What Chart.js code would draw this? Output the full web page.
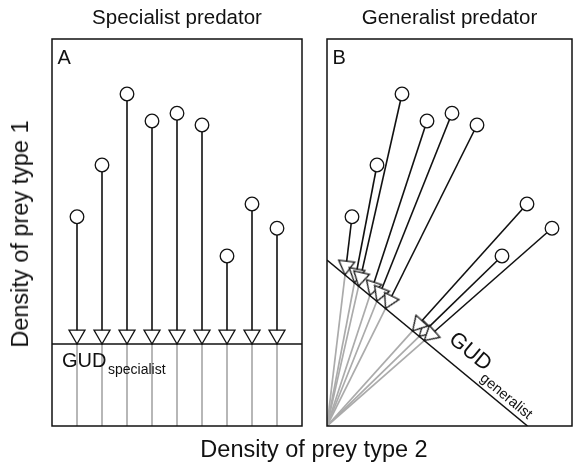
<!DOCTYPE html>
<html>
<head>
<meta charset="utf-8">
<script src="https://cdn.jsdelivr.net/npm/chart.js@4"></script>
<style>
  body { margin: 0; background: #fff; }
  #wrap { position: relative; width: 573px; height: 463px; overflow: hidden;
          font-family: "Liberation Sans", Arial, Helvetica, sans-serif; color: #111; }
  #wrap canvas { position: absolute; top: 0; }
  #panelA { left: 0; }
  #panelB { left: 310px; }
  .axis-title { position: absolute; font-size: 23.5px; line-height: 24px; white-space: nowrap; }
  #xTitle { left: 314px; top: 449px; transform: translate(-50%, -50%); }
  #yTitle { left: 20px; top: 234px; transform: translate(-50%, -50%) rotate(-90deg); }
</style>
</head>
<body>
<div id="wrap">
  <canvas id="panelA" width="310" height="463"></canvas>
  <canvas id="panelB" width="263" height="463"></canvas>
  <div class="axis-title" id="xTitle">Density of prey type 2</div>
  <div class="axis-title" id="yTitle">Density of prey type 1</div>
</div>
<script>
// starting densities of the nine patches (same patches in both panels)
const preyType2 = [1, 2, 3, 4, 5, 6, 7, 8, 9];
const preyType1 = [8.37, 10.44, 13.28, 12.2, 12.51, 12.04, 6.8, 8.88, 7.91];

// giving-up densities
const gudSpecialist = 3.28;          // prey type 1 level
const gudGeneralist = [8.02, 6.64];  // intercepts: prey type 2 axis, prey type 1 axis

const FONT = '"Liberation Sans", Arial, Helvetica, sans-serif';
const INK = '#111';
const GREY = '#ababab';

// open arrow head, tip sits in the middle of the image so the point is the tip
function arrowHead(side) {
    const h = side * Math.sqrt(3) / 2;
    const size = Math.ceil(2 * h + 4);
    const c = document.createElement('canvas');
    c.width = c.height = size;
    const g = c.getContext('2d');
    const m = size / 2;
    g.beginPath();
    g.moveTo(m, m);
    g.lineTo(m - side / 2, m - h);
    g.lineTo(m + side / 2, m - h);
    g.closePath();
    g.fillStyle = '#fff';
    g.fill();
    g.lineWidth = 1.3;
    g.strokeStyle = INK;
    g.stroke();
    return c;
}
const HEAD = arrowHead(16);

function seg(p, q, color, width, order) {
    return { data: [p, q], showLine: true, borderColor: color, borderWidth: width,
             pointRadius: 0, order: order };
}

// rotate each head so that it points from its circle to its tip
function headRotation(sources) {
    return (ctx) => {
        const xs = ctx.chart.scales.x, ys = ctx.chart.scales.y;
        const tip = ctx.raw, src = sources[ctx.dataIndex];
        if (!tip || !src) return 0;
        const dx = xs.getPixelForValue(tip.x) - xs.getPixelForValue(src.x);
        const dy = ys.getPixelForValue(tip.y) - ys.getPixelForValue(src.y);
        return Math.atan2(-dx, dy) * 180 / Math.PI;
    };
}

const patches = preyType2.map((x, i) => ({ x: x, y: preyType1[i] }));

const frame = {
    id: 'frame',
    afterDatasetsDraw(chart) {
        const { ctx, chartArea: a } = chart;
        ctx.save();
        ctx.lineWidth = 1.5;
        ctx.strokeStyle = INK;
        ctx.strokeRect(a.left, a.top, a.right - a.left, a.bottom - a.top);
        ctx.restore();
    }
};

function baseOptions(title, pad, xMax) {
    return {
        responsive: false,
        animation: false,
        events: [],
        layout: { padding: pad, autoPadding: false },
        scales: {
            x: { type: 'linear', min: 0, max: xMax, display: false },
            y: { type: 'linear', min: 0, max: 15.48, display: false }
        },
        plugins: {
            legend: { display: false },
            tooltip: { enabled: false },
            title: {
                display: true, text: title, color: INK,
                font: { family: FONT, size: 20.5, weight: 'normal' },
                padding: { top: 6.5, bottom: 7.9 }
            }
        }
    };
}

// ---- panel A: specialist ----
const tipsA = preyType2.map(x => ({ x: x, y: gudSpecialist }));

const labelsA = {
    id: 'labelsA',
    afterDraw(chart) {
        const { ctx, chartArea: a, scales } = chart;
        const gy = scales.y.getPixelForValue(gudSpecialist);
        ctx.save();
        ctx.fillStyle = INK;
        ctx.textAlign = 'left';
        ctx.textBaseline = 'alphabetic';
        ctx.font = '20px ' + FONT;
        ctx.fillText('A', a.left + 5.5, a.top + 24.5);
        ctx.fillText('GUD', a.left + 10, gy + 22.7);
        const w = ctx.measureText('GUD').width;
        ctx.font = '14px ' + FONT;
        ctx.fillText('specialist', a.left + 10 + w + 1.5, gy + 30);
        ctx.restore();
    }
};

new Chart(document.getElementById('panelA'), {
    type: 'scatter',
    data: {
        datasets: [
            { data: patches, pointStyle: 'circle', pointRadius: 6.8,
              pointBackgroundColor: '#fff', pointBorderColor: INK, pointBorderWidth: 1.3, order: 0 },
            { data: tipsA, pointStyle: HEAD, pointRadius: 9,
              pointRotation: headRotation(patches), order: 1 },
            ...patches.map((p, i) => seg(p, tipsA[i], INK, 1.6, 2)),
            seg({ x: 0, y: gudSpecialist }, { x: 10, y: gudSpecialist }, INK, 1.5, 3),
            ...preyType2.map((x, i) => seg({ x: x, y: 0 }, tipsA[i], GREY, 1.7, 4))
        ]
    },
    options: baseOptions('Specialist predator', { left: 52, right: 8, top: 0, bottom: 37 }, 10),
    plugins: [frame, labelsA]
});

// ---- panel B: generalist ----
const tipsB = patches.map(p => {
    const t = 1 / (p.x / gudGeneralist[0] + p.y / gudGeneralist[1]);
    return { x: p.x * t, y: p.y * t };
});

const labelsB = {
    id: 'labelsB',
    afterDraw(chart) {
        const { ctx, chartArea: a, scales } = chart;
        const x0 = scales.x.getPixelForValue(0), y0 = scales.y.getPixelForValue(gudGeneralist[1]);
        const x1 = scales.x.getPixelForValue(gudGeneralist[0]), y1 = scales.y.getPixelForValue(0);
        const len = Math.hypot(x1 - x0, y1 - y0);
        const ux = (x1 - x0) / len, uy = (y1 - y0) / len;
        const nx = uy, ny = -ux;
        const ang = Math.atan2(uy, ux);
        const put = (txt, size, along, off) => {
            ctx.save();
            ctx.translate(x0 + ux * along * len + nx * off, y0 + uy * along * len + ny * off);
            ctx.rotate(ang);
            ctx.font = size + 'px ' + FONT;
            ctx.textAlign = 'center';
            ctx.textBaseline = 'middle';
            ctx.fillText(txt, 0, 0);
            ctx.restore();
        };
        ctx.save();
        ctx.fillStyle = INK;
        ctx.textAlign = 'left';
        ctx.textBaseline = 'alphabetic';
        ctx.font = '20px ' + FONT;
        ctx.fillText('B', a.left + 5.5, a.top + 24.5);
        put('GUD', 21.5, 0.6485, 20.4);
        put('generalist', 14.5, 0.864, 9);
        ctx.restore();
    }
};

new Chart(document.getElementById('panelB'), {
    type: 'scatter',
    data: {
        datasets: [
            { data: patches, pointStyle: 'circle', pointRadius: 6.8,
              pointBackgroundColor: '#fff', pointBorderColor: INK, pointBorderWidth: 1.3, order: 0 },
            { data: tipsB, pointStyle: HEAD, pointRadius: 9,
              pointRotation: headRotation(patches), order: 1 },
            ...patches.map((p, i) => seg(p, tipsB[i], INK, 1.6, 2)),
            seg({ x: 0, y: gudGeneralist[1] }, { x: gudGeneralist[0], y: 0 }, INK, 1.5, 3),
            ...tipsB.map(t => seg({ x: 0, y: 0 }, t, GREY, 1.7, 4))
        ]
    },
    options: baseOptions('Generalist predator', { left: 17, right: 1, top: 0, bottom: 37 }, 9.8),
    plugins: [frame, labelsB]
});
</script>
</body>
</html>
